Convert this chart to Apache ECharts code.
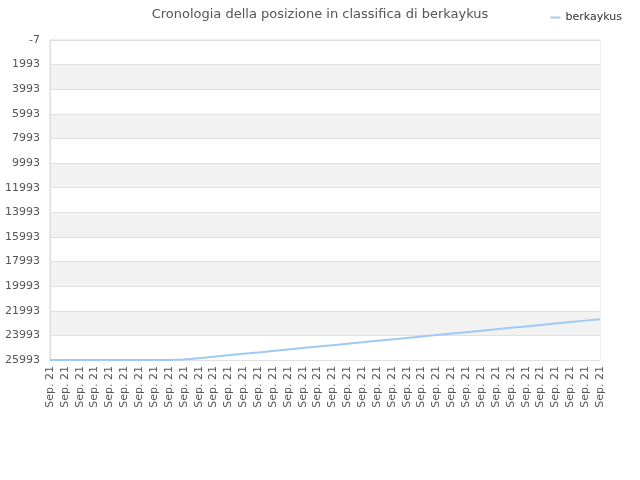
<!DOCTYPE html>
<html><head><meta charset="utf-8">
<script src="https://cdn.jsdelivr.net/npm/echarts@6/dist/echarts.min.js"></script>
<style>html,body{margin:0;padding:0;background:#fff}#c{width:640px;height:480px}</style>
</head><body><div id="c"></div>
<script>
var categories = ["Sep. 21","Sep. 21","Sep. 21","Sep. 21","Sep. 21","Sep. 21","Sep. 21","Sep. 21","Sep. 21","Sep. 21",
"Sep. 21","Sep. 21","Sep. 21","Sep. 21","Sep. 21","Sep. 21","Sep. 21","Sep. 21","Sep. 21","Sep. 21",
"Sep. 21","Sep. 21","Sep. 21","Sep. 21","Sep. 21","Sep. 21","Sep. 21","Sep. 21","Sep. 21","Sep. 21",
"Sep. 21","Sep. 21","Sep. 21","Sep. 21","Sep. 21","Sep. 21","Sep. 21","Sep. 21"];
var positions = [25990,25990,25990,25990,25990,25990,25990,25990,25990,25960,
25843,25725,25608,25491,25374,25256,25139,25022,24905,24787,
24670,24553,24436,24318,24201,24084,23966,23849,23732,23615,
23497,23380,23263,23146,23028,22911,22794,22676];
var seriesName = "berkaykus";
var titleText = "Cronologia della posizione in classifica di berkaykus";
var yMin = -7, yMax = 25993, yStep = 2000;

var chart = echarts.init(document.getElementById('c'), null, {renderer:'canvas'});
chart.setOption({
  animation:false,
  textStyle:{fontFamily:'DejaVu Sans'},
  title:{text:titleText,left:'center',top:3,textStyle:{fontSize:13,fontWeight:'normal',color:'#555',fontFamily:'DejaVu Sans'}},
  legend:{data:[seriesName],right:13,top:7,icon:'rect',itemWidth:10,itemHeight:2,itemGap:5,
    textStyle:{fontSize:11,color:'#333',fontFamily:'DejaVu Sans'}},
  grid:{left:50,right:40,top:40,bottom:120,show:true,borderColor:'#ddd',borderWidth:1,containLabel:false},
  xAxis:{type:'category',data:categories,boundaryGap:false,
    axisLine:{lineStyle:{color:'#ddd'}},axisTick:{show:false},
    axisLabel:{rotate:90,interval:0,fontSize:11,color:'#555',margin:6},
    splitLine:{show:false}},
  yAxis:{type:'value',inverse:true,min:yMin,max:yMax,interval:yStep,
    axisLine:{show:true,lineStyle:{color:'#ddd'}},axisTick:{show:false},
    axisLabel:{fontSize:11,color:'#555',margin:10,formatter:function(v){return String(v);}},
    splitLine:{show:true,lineStyle:{color:'#e0e0e0'}},
    splitArea:{show:true,areaStyle:{color:['#ffffff','#f2f2f2']}}},
  series:[{name:seriesName,type:'line',data:positions,showSymbol:false,
    lineStyle:{color:'#9ecaf5',width:2},itemStyle:{color:'#9ecaf5'}}]
});
</script></body></html>
